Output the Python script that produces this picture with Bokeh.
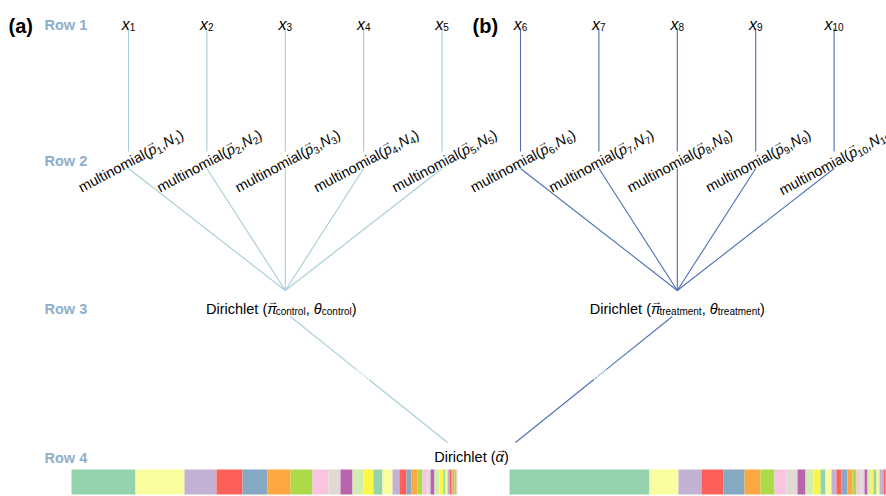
import math
from bokeh.plotting import figure
from bokeh.models import ColumnDataSource, Range1d
from bokeh.core.properties import value
from bokeh.embed import file_html
from bokeh.resources import INLINE

# ---------------- data ----------------
panel_labels = ["(a)", "(b)"]
row_labels = ["Row 1", "Row 2", "Row 3", "Row 4"]
groups = ["control", "treatment"]
leaf_ids = ["1", "2", "3", "4", "5", "6", "7", "8", "9", "10"]
leaf_group = [0, 0, 0, 0, 0, 1, 1, 1, 1, 1]
# proportions of the bottom stacked bars
bar_a = [64, 49, 32, 26, 25, 23, 22, 16, 12, 12, 11, 10, 9, 10, 7, 7, 5, 6, 5, 5,
         3, 4, 5, 4, 2, 2, 2, 2, 1, 2, 2, 1]
bar_b = [140, 29, 23, 22, 21, 16, 14, 12, 11, 8, 8, 7, 5, 6, 5, 5, 6, 5, 4, 4,
         4, 3, 3, 3, 3, 3, 4, 2, 2, 2, 2, 1, 1, 1, 1]
palette = ["#94D3AE", "#FAFD9F", "#C3B1D4", "#FB6059", "#85A9C3", "#FDA743",
           "#ADDA49", "#F9C4DF", "#DFDAD3", "#B865AE", "#D1EBB3", "#FAF644"]
line_colors = ["#A6CCD9", "#4A70B5"]
row_color = "#8EAFCB"

# ---------------- layout ----------------
FONT = "Liberation Sans"
LEAF_X0 = [128.0, 520.0]
LEAF_DX = 78.4
ROOT_X = 471.0
GROUP_LABEL_DX = [-4.0, 0.0]
Y_LEAF, Y_MULT, Y_GROUP, Y_ROOT = 24.0, 156.0, 308.0, 456.0
BAR_X0 = [71.0, 509.0]
BAR_LEN = 386.0
BAR_TOP, BAR_BOT = 469.0, 494.0
S_MAIN = 14.5
S_SUB = 10.0
ANG = 28.0

W = {' ': 278, '(': 333, ')': 333, ',': 278, '.': 278, 'D': 722, 'N': 722,
     'R': 722, 'a': 556, 'c': 500, 'e': 556, 'h': 556, 'i': 222, 'l': 222,
     'm': 833, 'n': 556, 'o': 556, 'p': 556, 'r': 333, 't': 278, 'u': 556,
     'w': 722, 'x': 500, 'π': 580, 'θ': 556, 'α': 578, '→': 1000}


def tw(s, size):
    return sum(W.get(c, 556) for c in s) / 1000.0 * size


texts = {st: dict(x=[], y=[], text=[], size=[], angle=[], color=[])
         for st in ("normal", "italic", "bold")}


def put(style, x, y, t, size, ang=0.0, color="black"):
    d = texts[style]
    d["x"].append(x); d["y"].append(y); d["text"].append(t)
    d["size"].append("%.1fpx" % size); d["angle"].append(ang); d["color"].append(color)


def rich(cx, cy, pieces, angle_deg=0.0, align="center"):
    """pieces: (text, size, shift_down, style, advance, dx)"""
    a = math.radians(angle_deg)
    ux, uy = math.cos(a), -math.sin(a)
    nx, ny = math.sin(a), math.cos(a)
    total = sum(tw(t, s) for (t, s, sh, st, adv, dx) in pieces if adv)
    pos = -total / 2 if align == "center" else 0.0
    for t, s, sh, st, adv, dx in pieces:
        q = pos + dx
        put(st, cx + q * ux + sh * nx, cy + q * uy + sh * ny, t, s, a)
        if adv:
            pos += tw(t, s)


def arrow_over(ch, size):
    asz = size * 0.72
    aw = tw("→", asz)
    return ("→", asz, -size * 0.5, "normal", False,
            (tw(ch, size) - aw) / 2 + size * 0.1)


p = figure(width=886, height=496, x_range=Range1d(0, 886), y_range=Range1d(496, 0),
           x_axis_type=None, y_axis_type=None, output_backend="svg",
           toolbar_location=None, min_border=0)
p.outline_line_color = None
p.grid.visible = False

# ---------------- bars ----------------
for k, vals in enumerate([bar_a, bar_b]):
    tot = float(sum(vals))
    left, right, cols = [], [], []
    c = 0.0
    for i, v in enumerate(vals):
        left.append(BAR_X0[k] + c / tot * BAR_LEN)
        c += v
        right.append(BAR_X0[k] + c / tot * BAR_LEN)
        cols.append(palette[i % len(palette)])
    p.quad(left=left, right=right, top=BAR_TOP, bottom=BAR_BOT, fill_color=cols,
           line_color=None)

# ---------------- edges ----------------
group_x = [LEAF_X0[g] + 2 * LEAF_DX for g in range(2)]
root_end = [(ROOT_X - 24, 442.0), (ROOT_X + 44, 442.0)]
for g in range(2):
    seg = dict(x0=[], y0=[], x1=[], y1=[])
    for i, gid in enumerate(leaf_group):
        if gid != g:
            continue
        lx = LEAF_X0[g] + (i - 5 * g) * LEAF_DX
        for a_, b_ in [((lx, 28), (lx, 151)), ((lx, 168), (group_x[g], 290))]:
            seg["x0"].append(a_[0]); seg["y0"].append(a_[1])
            seg["x1"].append(b_[0]); seg["y1"].append(b_[1])
    sx = group_x[g] + (5 if g == 0 else -5)
    sy = 316.0
    ex, ey = root_end[g]
    f1, f2 = 0.42, 0.50
    m1 = (sx + (ex - sx) * f1, sy + (ey - sy) * f1)
    m2 = (sx + (ex - sx) * f2, sy + (ey - sy) * f2)
    for a_, b_ in [((sx, sy), m1), (m2, (ex, ey))]:
        seg["x0"].append(a_[0]); seg["y0"].append(a_[1])
        seg["x1"].append(b_[0]); seg["y1"].append(b_[1])
    p.segment(x0="x0", y0="y0", x1="x1", y1="y1", source=ColumnDataSource(seg),
              line_color=line_colors[g], line_width=1.1)
    p.segment(x0=[m1[0]], y0=[m1[1]], x1=[m2[0]], y1=[m2[1]],
              line_color=line_colors[g], line_width=1.1, line_dash="1 1")

# ---------------- labels ----------------
put("bold", 8, 25, panel_labels[0], 20)
put("bold", 472, 25, panel_labels[1], 20)
for r, yy in zip(row_labels, [24, 160, 308, 457]):
    put("bold", 44, yy, r, 14.5, 0.0, row_color)

for i, lid in enumerate(leaf_ids):
    g = leaf_group[i]
    lx = LEAF_X0[g] + (i - 5 * g) * LEAF_DX
    rich(lx, Y_LEAF, [("x", 16, 0, "italic", True, 0),
                      (lid, S_SUB, 2.5, "normal", True, 0)])
    a = math.radians(ANG)
    off = 0.35 * S_MAIN
    pieces = [("multinomial(", S_MAIN, 0, "normal", True, 0),
              arrow_over("p", S_MAIN),
              ("p", S_MAIN, 0, "italic", True, 0),
              (lid, S_SUB, 3.5, "normal", True, 0),
              (",", S_MAIN, 0, "normal", True, 0),
              ("N", S_MAIN, 0, "italic", True, 0),
              (lid, S_SUB, 3.5, "normal", True, 0),
              (")", S_MAIN, 0, "normal", True, 0)]
    rich(lx + off * math.sin(a), Y_MULT + off * math.cos(a), pieces, ANG)

for g, name in enumerate(groups):
    pieces = [("Dirichlet (", S_MAIN, 0, "normal", True, 0),
              arrow_over("π", S_MAIN),
              ("π", S_MAIN, 0, "italic", True, 0),
              (name, S_SUB, 3.0, "normal", True, 0),
              (", ", S_MAIN, 0, "normal", True, 0),
              ("θ", S_MAIN, 0, "italic", True, 0),
              (name, S_SUB, 3.0, "normal", True, 0),
              (")", S_MAIN, 0, "normal", True, 0)]
    rich(group_x[g] + GROUP_LABEL_DX[g], Y_GROUP, pieces)

rich(ROOT_X, Y_ROOT, [("Dirichlet (", S_MAIN, 0, "normal", True, 0),
                      arrow_over("α", S_MAIN),
                      ("α", S_MAIN, 0, "italic", True, 0),
                      (")", S_MAIN, 0, "normal", True, 0)])

for st, d in texts.items():
    if not d["x"]:
        continue
    p.text(x="x", y="y", text="text", angle="angle", text_font_size="size",
           text_color="color", source=ColumnDataSource(d),
           text_font=value(FONT), text_font_style=st,
           text_align="left", text_baseline="alphabetic")

open("out.html", "w").write(file_html(p, INLINE))
